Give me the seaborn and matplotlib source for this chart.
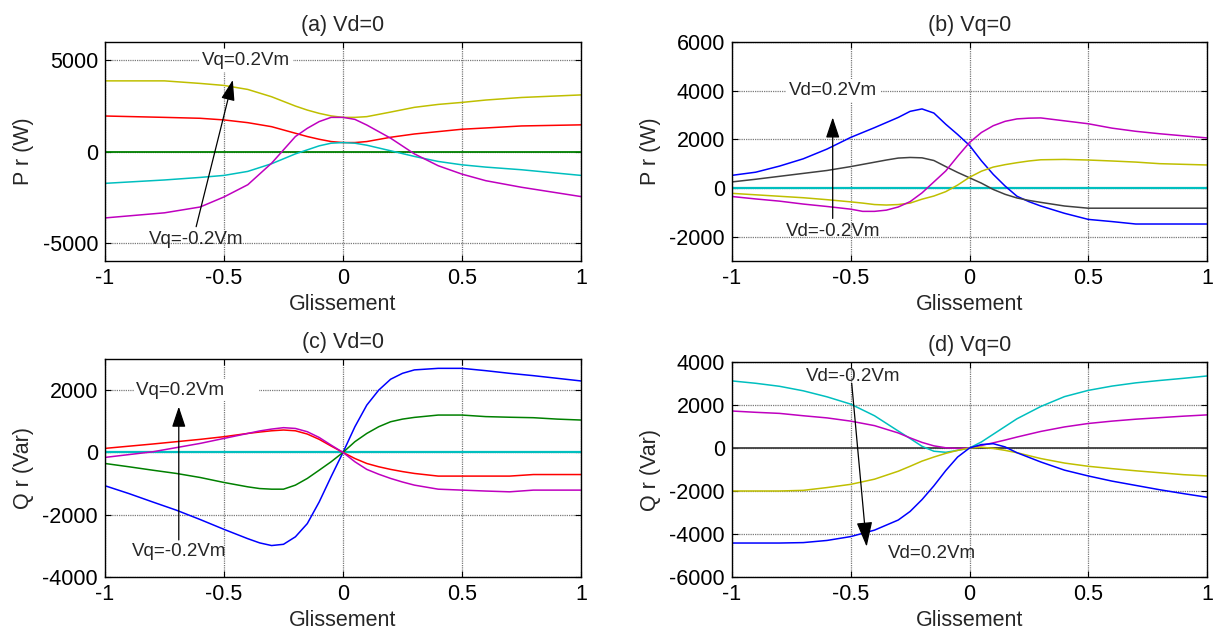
import matplotlib
matplotlib.use("Agg")
import matplotlib.pyplot as plt
import seaborn as sns

# Line colours (classic MATLAB colour order)
BLUE = (0, 0, 1)
GREEN = (0, 0.5, 0)
RED = (1, 0, 0)
CYAN = (0, 0.75, 0.75)
MAGENTA = (0.75, 0, 0.75)
YELLOW = (0.75, 0.75, 0)
DGRAY = (0.25, 0.25, 0.25)

# Zero-valued curve (V = 0)
slip_zero = [-1, 1]
p_zero = [0, 0]

# (a) Active power, Vd = 0
slip_a = [-1, -0.75, -0.6, -0.5, -0.4, -0.3, -0.2, -0.15, -0.1, -0.05,
          0, 0.05, 0.1, 0.2, 0.3, 0.4, 0.5, 0.6, 0.75, 1]
pa_yellow = [3870, 3870, 3730, 3620, 3400, 3000, 2490, 2270, 2090, 1950,
             1870, 1870, 1910, 2160, 2420, 2580, 2690, 2820, 2960, 3100]
pa_red = [1945, 1870, 1820, 1730, 1580, 1360, 1000, 820, 670, 545,
          490, 490, 545, 780, 960, 1090, 1220, 1290, 1400, 1460]
pa_cyan = [-1745, -1560, -1420, -1310, -1090, -670, -130, 90, 310, 455,
           490, 455, 345, 40, -270, -545, -730, -855, -1000, -1310]
pa_magenta = [-3640, -3360, -3040, -2490, -1820, -640, 820, 1270, 1640, 1870,
              1870, 1760, 1450, 730, -130, -780, -1240, -1600, -1960, -2470]

# (b) Active power, Vq = 0
slip_b = [-1, -0.9, -0.8, -0.7, -0.6, -0.5, -0.45, -0.4, -0.35, -0.3, -0.25,
          -0.2, -0.15, -0.1, -0.05, 0, 0.05, 0.1, 0.15, 0.2, 0.25, 0.3, 0.4,
          0.5, 0.6, 0.7, 0.8, 1]
pb_blue = [520, 650, 900, 1200, 1600, 2080, 2280, 2480, 2690, 2900, 3150,
           3250, 3080, 2620, 2200, 1750, 1120, 560, 80, -340, -560, -740, -1040,
           -1290, -1380, -1480, -1480, -1480]
pb_gray = [250, 360, 480, 600, 720, 880, 970, 1060, 1150, 1230, 1255,
           1240, 1130, 880, 640, 420, 200, -60, -260, -410, -510, -590, -740,
           -830, -830, -830, -830, -830]
pb_yellow = [-220, -280, -340, -400, -480, -570, -620, -680, -700, -680, -620,
             -460, -330, -150, 120, 440, 690, 860, 960, 1040, 1110, 1160, 1175,
             1150, 1110, 1065, 1000, 946]
pb_magenta = [-350, -450, -540, -660, -760, -870, -960, -960, -910, -780, -560,
              -200, 250, 700, 1300, 1870, 2280, 2560, 2740, 2840, 2870, 2880,
              2760, 2640, 2460, 2330, 2230, 2058]

# (c) Reactive power, Vd = 0
slip_c = [-1, -0.9, -0.8, -0.7, -0.6, -0.5, -0.4, -0.35, -0.3, -0.25, -0.2,
          -0.15, -0.1, -0.05, 0, 0.05, 0.1, 0.15, 0.2, 0.25, 0.3, 0.4, 0.5,
          0.6, 0.7, 0.8, 0.9, 1]
qc_blue = [-1070, -1320, -1590, -1855, -2155, -2470, -2770, -2905, -2990,
           -2950, -2710, -2285, -1590, -780, 0, 825, 1520, 2000, 2350, 2540,
           2650, 2700, 2700, 2625, 2540, 2465, 2380, 2295]
qc_green = [-355, -460, -570, -675, -805, -965, -1105, -1160, -1180, -1180,
            -1050, -835, -570, -300, 0, 345, 610, 825, 985, 1070, 1125, 1200,
            1200, 1150, 1130, 1115, 1070, 1040]
qc_red = [130, 200, 270, 345, 420, 505, 610, 655, 695, 720, 695, 590, 420,
          205, 0, -195, -355, -460, -545, -615, -675, -760, -760, -760, -760,
          -710, -710, -710]
qc_magenta = [-160, -70, 20, 155, 290, 450, 610, 690, 750, 795, 770, 665, 480,
              235, 0, -300, -545, -700, -835, -950, -1050, -1180, -1210, -1240,
              -1265, -1210, -1210, -1210]

# (d) Reactive power, Vq = 0
slip_d = [-1, -0.9, -0.8, -0.7, -0.6, -0.5, -0.4, -0.3, -0.25, -0.2, -0.15,
          -0.1, -0.05, 0, 0.05, 0.1, 0.15, 0.2, 0.3, 0.4, 0.5, 0.6, 0.7, 0.8,
          0.9, 1]
qd_cyan = [3120, 3010, 2870, 2660, 2380, 2040, 1500, 790, 440, 80, -150, -200,
           -110, 0, 280, 640, 1000, 1360, 1930, 2390, 2680, 2880, 3030, 3140,
           3240, 3350]
qd_magenta = [1720, 1660, 1610, 1500, 1400, 1250, 1040, 700, 470, 260, 100, 10,
              -20, 0, 120, 240, 370, 510, 770, 980, 1140, 1250, 1340, 1410,
              1480, 1540]
qd_yellow = [-2000, -2000, -2000, -1970, -1840, -1690, -1450, -1080, -850, -610,
             -420, -250, -110, 0, 40, -20, -110, -220, -490, -700, -850, -960,
             -1060, -1150, -1240, -1300]
qd_blue = [-4420, -4420, -4420, -4400, -4300, -4120, -3820, -3350, -2950,
           -2400, -1760, -1050, -420, 0, 160, 200, 50, -220, -650, -1030,
           -1300, -1540, -1740, -1940, -2120, -2290]

xticks = [-1, -0.5, 0, 0.5, 1]
xticklabels = ["-1", "-0.5", "0", "0.5", "1"]

sns.set_theme(style="white")
plt.rcParams["font.family"] = ["Liberation Sans", "DejaVu Sans"]
plt.rcParams["axes.unicode_minus"] = False

fig = plt.figure(figsize=(12.15, 6.37), dpi=100)
fig.patch.set_facecolor("white")

W, H = 1215.0, 637.0


def make_axes(left, top, right, bottom):
    return fig.add_axes([left / W, 1 - bottom / H, (right - left) / W, (bottom - top) / H])


ax_a = make_axes(105, 42, 581, 261)
ax_b = make_axes(732, 42, 1207, 261)
ax_c = make_axes(105, 359, 581, 577)
ax_d = make_axes(732, 362, 1207, 577)

FS = 15.5
ANN = 13.5


def style(ax, title, ylabel, ylim, yticks):
    ax.set_xlim(-1, 1)
    ax.set_ylim(*ylim)
    ax.set_xticks(xticks)
    ax.set_xticklabels(xticklabels)
    ax.set_yticks(yticks)
    ax.set_yticklabels([str(v) for v in yticks])
    ax.grid(True, color="#7a7a7a", linestyle=(0, (1, 0.8)), linewidth=0.9)
    ax.set_axisbelow(True)
    ax.tick_params(direction="in", length=4, width=0.8, top=True, right=True,
                   bottom=True, left=True, labelsize=FS, pad=5, colors="black")
    for s in ax.spines.values():
        s.set_visible(True)
        s.set_color("black")
        s.set_linewidth(1.0)
    ax.set_title(title, fontsize=FS, pad=8)
    ax.set_xlabel("Glissement", fontsize=FS, labelpad=4)
    ax.set_ylabel(ylabel, fontsize=FS, labelpad=6)
    ax.set_facecolor("white")


def curve(ax, x, y, color, lw=1.1):
    sns.lineplot(x=x, y=y, color=color, linewidth=lw, ax=ax, sort=False,
                 estimator=None)


def arrow(ax, tail, tip, hw=0.3, hl=0.9):
    ax.annotate("", xy=tip, xytext=tail,
                arrowprops=dict(arrowstyle=f"-|>,head_length={hl},head_width={hw}",
                                color="black", lw=0.9, shrinkA=0, shrinkB=0,
                                mutation_scale=14))


box = dict(boxstyle="square,pad=0.15", facecolor="white", edgecolor="none")

# (a)
curve(ax_a, slip_zero, p_zero, GREEN, 1.3)
curve(ax_a, slip_a, pa_yellow, YELLOW)
curve(ax_a, slip_a, pa_red, RED)
curve(ax_a, slip_a, pa_cyan, CYAN)
curve(ax_a, slip_a, pa_magenta, MAGENTA)
style(ax_a, "(a) Vd=0", "P r (W)", (-6000, 6000), [-5000, 0, 5000])
ax_a.text(-0.592, 5000, "Vq=0.2Vm", fontsize=ANN, ha="left", va="center", bbox=box, zorder=5)
ax_a.text(-0.815, -4800, "Vq=-0.2Vm", fontsize=ANN, ha="left", va="center", zorder=5)
arrow(ax_a, (-0.617, -4120), (-0.463, 3920))

# (b)
curve(ax_b, slip_zero, p_zero, CYAN, 1.6)
curve(ax_b, slip_b, pb_blue, BLUE)
curve(ax_b, slip_b, pb_gray, DGRAY)
curve(ax_b, slip_b, pb_yellow, YELLOW)
curve(ax_b, slip_b, pb_magenta, MAGENTA)
style(ax_b, "(b) Vq=0", "P r (W)", (-3000, 6000), [-2000, 0, 2000, 4000, 6000])
ax_b.text(-0.759, 4000, "Vd=0.2Vm", fontsize=ANN, ha="left", va="center", bbox=box, zorder=5)
ax_b.text(-0.773, -1800, "Vd=-0.2Vm", fontsize=ANN, ha="left", va="center", zorder=5)
arrow(ax_b, (-0.576, -1250), (-0.576, 2900))

# (c)
curve(ax_c, slip_zero, p_zero, CYAN, 1.6)
curve(ax_c, slip_c, qc_blue, BLUE)
curve(ax_c, slip_c, qc_green, GREEN)
curve(ax_c, slip_c, qc_red, RED)
curve(ax_c, slip_c, qc_magenta, MAGENTA)
style(ax_c, "(c) Vd=0", "Q r (Var)", (-4000, 3000), [-4000, -2000, 0, 2000])
ax_c.text(-0.868, 2000, "Vq=0.2Vm      ", fontsize=ANN, ha="left", va="center", bbox=box, zorder=5)
ax_c.text(-0.885, -3190, "Vq=-0.2Vm", fontsize=ANN, ha="left", va="center", zorder=5)
arrow(ax_c, (-0.69, -2810), (-0.69, 1470))

# (d)
curve(ax_d, slip_zero, p_zero, DGRAY, 1.3)
curve(ax_d, slip_d, qd_cyan, CYAN)
curve(ax_d, slip_d, qd_magenta, MAGENTA)
curve(ax_d, slip_d, qd_yellow, YELLOW)
curve(ax_d, slip_d, qd_blue, BLUE)
style(ax_d, "(d) Vq=0", "Q r (Var)", (-6000, 4000), [-6000, -4000, -2000, 0, 2000, 4000])
ax_d.text(-0.688, 3320, "Vd=-0.2Vm", fontsize=ANN, ha="left", va="center", zorder=5)
ax_d.text(-0.342, -4900, "Vd=0.2Vm", fontsize=ANN, ha="left", va="center", zorder=5)
arrow(ax_d, (-0.496, 3010), (-0.433, -4590), hw=0.35, hl=1.1)

for ax in (ax_a, ax_b, ax_c, ax_d):
    leg = ax.get_legend()
    if leg is not None:
        leg.remove()

fig.savefig("out.png", dpi=100, facecolor="white")
